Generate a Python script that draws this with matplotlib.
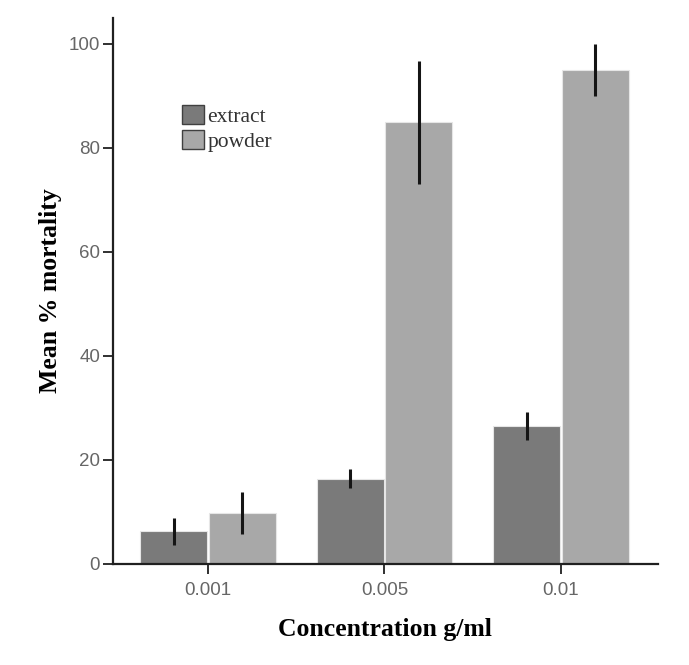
import numpy as np
import matplotlib.pyplot as plt

# data
concentrations = ['0.001', '0.005', '0.01']
extract_mean = [6.3, 16.4, 26.5]
extract_err = [2.6, 1.8, 2.7]
powder_mean = [9.8, 84.9, 94.9]
powder_err = [4.1, 11.8, 5.0]

fig = plt.figure(figsize=(6.89, 6.65), dpi=100)
ax = fig.add_axes([0.1636, 0.152, 0.7914, 0.821])

x = np.arange(len(concentrations))
bar_w = 0.38
off = 0.195

ax.bar(x - off, extract_mean, bar_w, color='#7a7a7a', edgecolor='#e6e6e6', linewidth=0.8, label='extract', zorder=2)
ax.bar(x + off, powder_mean, bar_w, color='#a8a8a8', edgecolor='#e6e6e6', linewidth=0.8, label='powder', zorder=2)
ax.errorbar(x - off, extract_mean, yerr=extract_err, fmt='none', ecolor='#151515', elinewidth=2.2, capsize=0, zorder=3)
ax.errorbar(x + off, powder_mean, yerr=powder_err, fmt='none', ecolor='#151515', elinewidth=2.2, capsize=0, zorder=3)

ax.set_xlim(-0.54, 2.55)
ax.set_ylim(0, 105)
ax.set_xticks(x)
ax.set_xticklabels(concentrations)
ax.set_yticks([0, 20, 40, 60, 80, 100])

for s in ['top', 'right']:
    ax.spines[s].set_visible(False)
for s in ['left', 'bottom']:
    ax.spines[s].set_linewidth(1.6)
    ax.spines[s].set_color('#202020')

ax.tick_params(axis='both', length=7, width=1.4, color='#303030', labelcolor='#666666', labelsize=13.5)
ax.tick_params(axis='x', pad=6)
ax.tick_params(axis='y', pad=2)
for lab in ax.get_xticklabels() + ax.get_yticklabels():
    lab.set_family('Liberation Sans')

ax.set_xlabel('Concentration g/ml', family='Liberation Serif', fontweight='bold', fontsize=18.5, labelpad=14)
ax.set_ylabel('Mean % mortality', family='Liberation Serif', fontweight='bold', fontsize=18.5, labelpad=5)

leg = ax.legend(loc='upper left', bbox_to_anchor=(0.112, 0.856), frameon=False,
                prop={'family': 'Liberation Serif', 'size': 15.5},
                handlelength=1.0, handleheight=1.0, handletextpad=0.15, labelspacing=0.12, borderaxespad=0)
for h in leg.legend_handles:
    h.set_edgecolor('#404040')
    h.set_linewidth(1.0)
for t in leg.get_texts():
    t.set_color('#333333')

fig.savefig('out.png', dpi=100)
